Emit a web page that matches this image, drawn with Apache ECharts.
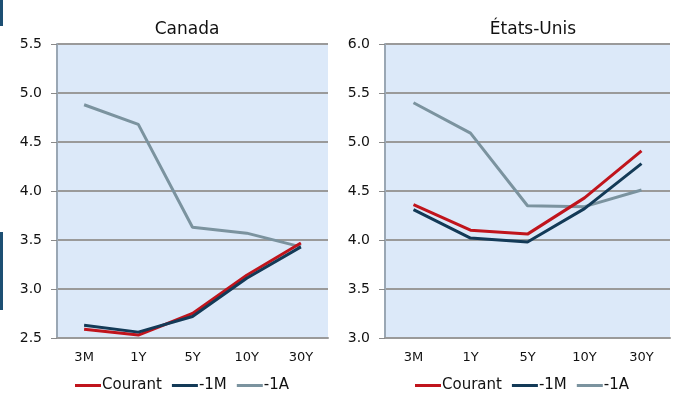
<!DOCTYPE html>
<html>
<head>
<meta charset="utf-8">
<script src="https://cdn.jsdelivr.net/npm/echarts@6/dist/echarts.min.js"></script>
<style>
  html, body { margin: 0; padding: 0; background: #fff; }
  #chart { width: 680px; height: 394px; }
</style>
</head>
<body>
<div id="chart"></div>
<script>
var maturites = ['3M', '1Y', '5Y', '10Y', '30Y'];

// Canada
var caCourant = [2.59, 2.53, 2.75, 3.14, 3.47];
var caMois    = [2.63, 2.56, 2.72, 3.11, 3.43];
var caAn      = [4.88, 4.68, 3.63, 3.57, 3.43];

// États-Unis
var usCourant = [4.36, 4.10, 4.06, 4.43, 4.91];
var usMois    = [4.31, 4.02, 3.98, 4.32, 4.78];
var usAn      = [5.40, 5.09, 4.35, 4.34, 4.51];

var ticksCa = ['2.5', '3.0', '3.5', '4.0', '4.5', '5.0', '5.5'];
var ticksUs = ['3.0', '3.5', '4.0', '4.5', '5.0', '5.5', '6.0'];

var police = 'DejaVu Sans';
var rouge = '#c0141c', marine = '#133a57', gris = '#7b939f';

function axeX(idx) {
	return {
		type: 'category', gridIndex: idx, data: maturites, boundaryGap: true,
		axisLine: { lineStyle: { color: '#9a9a9a', width: 2 } },
		axisTick: { show: false },
		axisLabel: { color: '#111', fontFamily: police, fontSize: 13, margin: 13 }
	};
}
function axeY(idx, min, max, labels) {
	return {
		type: 'value', gridIndex: idx, min: min, max: max, interval: 0.5,
		axisLine: { show: true, lineStyle: { color: '#9aa7b4', width: 2 } },
		axisTick: { show: true, length: 6, lineStyle: { color: '#8a8a8a' } },
		splitLine: { lineStyle: { color: '#9a9a9a', width: 2 } },
		axisLabel: {
			color: '#111', fontFamily: police, fontSize: 14, margin: 15,
			formatter: function (v) {
				var i = Math.round((v - min) / 0.5);
				return labels[i];
			}
		}
	};
}
function serie(nom, idx, data, couleur) {
	return {
		name: nom, type: 'line', xAxisIndex: idx, yAxisIndex: idx, data: data,
		symbol: 'none', lineStyle: { color: couleur, width: 3 }, itemStyle: { color: couleur },
		z: nom == '-1A' ? 1 : (nom == 'Courant' ? 2 : 3)
	};
}
function legende(centre) {
	return {
		data: ['Courant', '-1M', '-1A'], left: centre, top: 373,
		icon: 'rect', itemWidth: 26, itemHeight: 3, itemGap: 10,
		textStyle: { color: '#111', fontFamily: police, fontSize: 15, padding: [0, 0, 0, -4] }
	};
}

var myChart = echarts.init(document.getElementById('chart'));
var option = {
	backgroundColor: '#fff',
	animation: false,
	title: [
		{ text: 'Canada', left: 182, top: 16, textAlign: 'center',
		  textStyle: { fontFamily: police, fontSize: 17, fontWeight: 'normal', color: '#111' } },
		{ text: 'États-Unis', left: 528, top: 16, textAlign: 'center',
		  textStyle: { fontFamily: police, fontSize: 17, fontWeight: 'normal', color: '#111' } }
	],
	legend: [legende(70), legende(410)],
	grid: [
		{ left: 57, top: 44, width: 271, height: 294, show: true, backgroundColor: '#dce9f9', borderWidth: 0 },
		{ left: 385, top: 44, width: 285, height: 294, show: true, backgroundColor: '#dce9f9', borderWidth: 0 }
	],
	xAxis: [axeX(0), axeX(1)],
	yAxis: [axeY(0, 2.5, 5.5, ticksCa), axeY(1, 3.0, 6.0, ticksUs)],
	series: [
		serie('Courant', 0, caCourant, rouge),
		serie('-1M', 0, caMois, marine),
		serie('-1A', 0, caAn, gris),
		serie('Courant', 1, usCourant, rouge),
		serie('-1M', 1, usMois, marine),
		serie('-1A', 1, usAn, gris)
	],
	graphic: [
		{ type: 'rect', shape: { x: 0, y: 0, width: 3, height: 26 }, style: { fill: '#1d4f73' } },
		{ type: 'rect', shape: { x: 0, y: 232, width: 3, height: 78 }, style: { fill: '#1d4f73' } }
	]
};
myChart.setOption(option);
</script>
</body>
</html>
